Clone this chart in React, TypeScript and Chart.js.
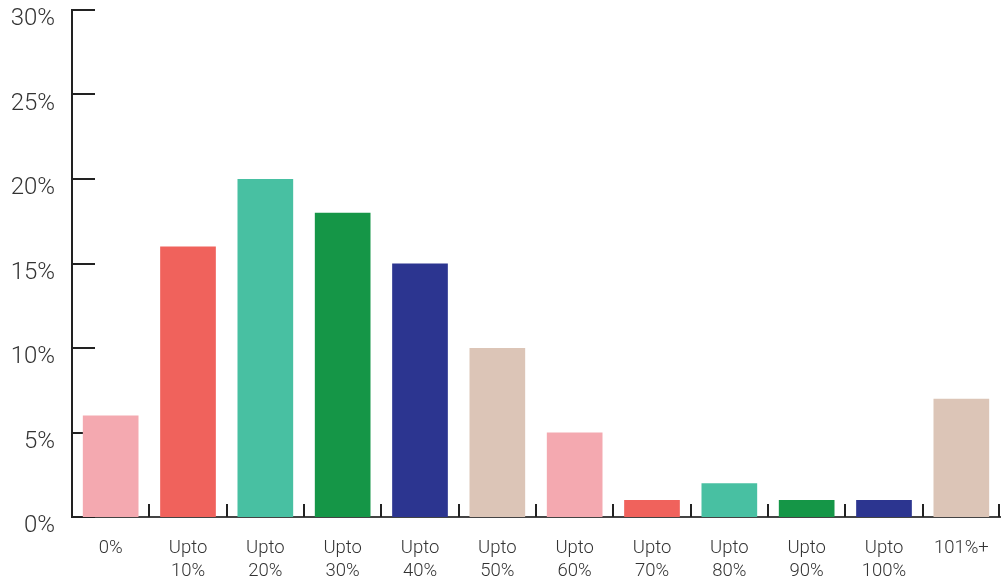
import React, { useEffect, useRef } from "react";
import { Chart, registerables } from "chart.js";

Chart.register(...registerables);

const categories: string[][] = [
  ["0%"],
  ["Upto", "10%"],
  ["Upto", "20%"],
  ["Upto", "30%"],
  ["Upto", "40%"],
  ["Upto", "50%"],
  ["Upto", "60%"],
  ["Upto", "70%"],
  ["Upto", "80%"],
  ["Upto", "90%"],
  ["Upto", "100%"],
  ["101%+"],
];
const values: number[] = [6, 16, 20, 18, 15, 10, 5, 1, 2, 1, 1, 7];
const palette: string[] = ["#F4A9B0", "#F0625C", "#48C0A2", "#159647", "#2C3590", "#DCC5B7"];
const barColors: string[] = categories.map((_, i) => palette[i % palette.length]);
const yMax = 30;
const yStep = 5;

const innerTicks = {
  id: "innerTicks",
  beforeDatasetsDraw(chart: any) {
    const { ctx, chartArea, scales } = chart;
    const x = scales.x;
    const y = scales.y;
    ctx.save();
    ctx.strokeStyle = "#222";
    ctx.lineWidth = 2;
    y.ticks.forEach((_: any, i: number) => {
      const py = Math.round(y.getPixelForTick(i));
      ctx.beginPath();
      ctx.moveTo(chartArea.left, py);
      ctx.lineTo(chartArea.left + 23, py);
      ctx.stroke();
    });
    const n = categories.length;
    for (let i = 1; i <= n; i++) {
      let px: number;
      if (i < n) px = (x.getPixelForValue(i - 1) + x.getPixelForValue(i)) / 2;
      else px = chartArea.right - 1;
      px = Math.round(px);
      ctx.beginPath();
      ctx.moveTo(px, chartArea.bottom);
      ctx.lineTo(px, chartArea.bottom - 13);
      ctx.stroke();
    }
    ctx.restore();
  },
};

const fontFamily = "Roboto, 'Liberation Sans', Arial, sans-serif";

export default function App() {
  const ref = useRef<HTMLCanvasElement | null>(null);
  useEffect(() => {
    if (!ref.current) return;
    const chart = new Chart(ref.current, {
      type: "bar",
      data: {
        labels: categories,
        datasets: [
          {
            data: values,
            backgroundColor: barColors,
            borderWidth: 0,
            categoryPercentage: 1,
            barPercentage: 0.72,
          },
        ],
      },
      options: {
        animation: false,
        responsive: true,
        maintainAspectRatio: false,
        layout: { padding: { top: 10, right: 1, left: 0, bottom: 0 } },
        plugins: { legend: { display: false }, tooltip: { enabled: false } },
        scales: {
          x: {
            grid: { display: false, drawTicks: false },
            border: { display: true, color: "#444", width: 2 },
            ticks: {
              color: "#333",
              font: { family: fontFamily, size: 18.5, weight: "300", lineHeight: 1.25 },
              padding: 20,
              maxRotation: 0,
              autoSkip: false,
            },
            afterFit: (s: any) => {
              s.height = 71;
              s.paddingLeft = 0;
              s.paddingRight = 0;
            },
          },
          y: {
            min: 0,
            max: yMax,
            grid: { display: false, drawTicks: false },
            border: { display: true, color: "#222", width: 2 },
            ticks: {
              stepSize: yStep,
              color: "#333",
              font: { family: fontFamily, size: 24, weight: "300" },
              padding: 17,
              labelOffset: 9,
              callback: (v: any) => `${v}%`,
            },
            afterFit: (s: any) => {
              s.width = 72;
              s.paddingTop = 0;
              s.paddingBottom = 0;
            },
          },
        },
      },
      plugins: [innerTicks],
    });
    return () => chart.destroy();
  }, []);
  return (
    <div style={{ position: "fixed", left: 0, top: 0, width: 1001, height: 588, background: "#fff" }}>
      <canvas ref={ref} />
    </div>
  );
}
